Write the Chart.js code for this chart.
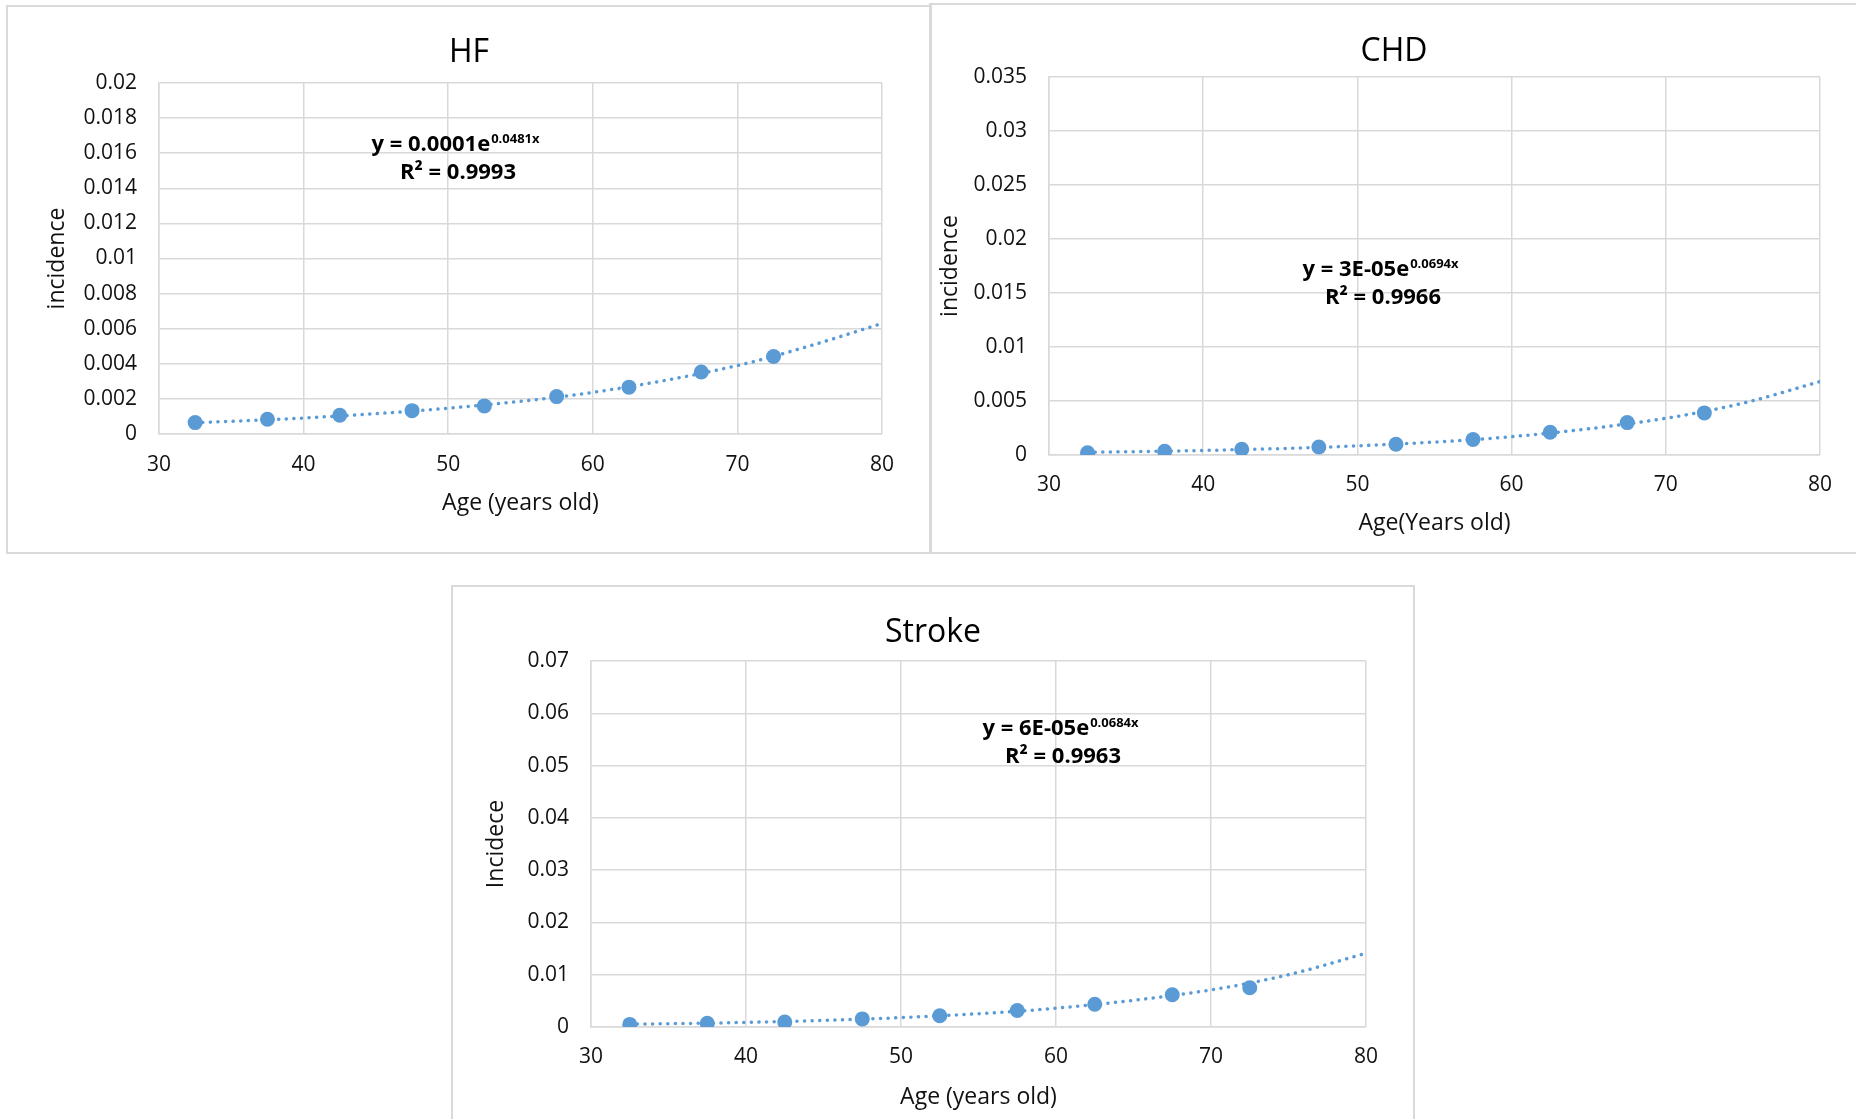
<!DOCTYPE html>
<html>
<head>
<meta charset="utf-8">
<script src="https://cdn.jsdelivr.net/npm/chart.js@4.4.1/dist/chart.umd.min.js"></script>
<style>
  body { margin: 0; background: #fff; width: 1856px; height: 1119px; overflow: hidden; position: relative; }
  .frame { position: absolute; border: 2px solid #d9d9d9; box-sizing: border-box; pointer-events: none; }
  canvas { position: absolute; }
</style>
</head>
<body>
<div class="frame" style="left:6px;top:5px;width:926px;height:549px"></div>
<div class="frame" style="left:929px;top:3px;width:1000px;height:551px"></div>
<div class="frame" style="left:451px;top:585px;width:964px;height:600px"></div>
<canvas id="hfChart" width="923" height="546" style="left:7px;top:6px"></canvas>
<canvas id="chdChart" width="926" height="548" style="left:930px;top:4px"></canvas>
<canvas id="strokeChart" width="962" height="533" style="left:452px;top:586px"></canvas>
<script>
// age groups (mid points)
const ages = [32.5, 37.5, 42.5, 47.5, 52.5, 57.5, 62.5, 67.5, 72.5];

const hfIncidence = [0.00065, 0.00084, 0.00107, 0.00133, 0.0016, 0.00213, 0.00267, 0.00353, 0.00442];
const chdIncidence = [0.0002, 0.00035, 0.00053, 0.00074, 0.001, 0.00143, 0.0021, 0.003, 0.0039];
const strokeIncidence = [0.0005, 0.0007, 0.00095, 0.00155, 0.00215, 0.00315, 0.00436, 0.00617, 0.0075];

// dotted exponential trend lines
const trendAges = [32.5, 40, 50, 60, 70, 75, 80];
const hfTrend = [0.00064, 0.00091, 0.00147, 0.00237, 0.0039, 0.00502, 0.0063];
const chdTrend = [0.00025, 0.00042, 0.00085, 0.0017, 0.0034, 0.0048, 0.0068];
const strokeTrend = [0.00053, 0.00088, 0.0018, 0.0036, 0.0071, 0.01, 0.0141];

// trend equations
const hfEq = ["y = 0.0001e", "0.0481x", "R² = 0.9993"];
const chdEq = ["y = 3E-05e", "0.0694x", "R² = 0.9966"];
const strokeEq = ["y = 6E-05e", "0.0684x", "R² = 0.9963"];

// axis ranges
const xMin = 30, xMax = 80, xStep = 10;
const hfYMax = 0.02, hfYStep = 0.002;
const chdYMax = 0.035, chdYStep = 0.005;
const strokeYMax = 0.07, strokeYStep = 0.01;

const blue = "#5B9BD5";
const gridColor = "#d9d9d9";
const textColor = "#111";

function toPoints(xs, ys) {
    return xs.map((x, i) => ({ x: x, y: ys[i] }));
}

// draws the chart title and the trend equation
const textPlugin = {
    id: "textPlugin",
    afterDraw(chart, args, opts) {
        const ctx = chart.ctx;
        ctx.save();
        ctx.fillStyle = "#000";
        ctx.textBaseline = "alphabetic";
        ctx.textAlign = "center";
        ctx.font = "32px 'Open Sans'";
        ctx.fillText(opts.title, opts.titleX, opts.titleY);

        // first line: main part + superscript
        const mainFont = "bold 22px 'Open Sans'";
        const supFont = "bold 13px 'Open Sans'";
        ctx.font = mainFont;
        const w1 = ctx.measureText(opts.eq[0]).width;
        ctx.font = supFont;
        const w2 = ctx.measureText(opts.eq[1]).width;
        const start = opts.eqX - (w1 + w2) / 2;
        ctx.textAlign = "left";
        ctx.font = mainFont;
        ctx.fillText(opts.eq[0], start, opts.eqY);
        ctx.font = supFont;
        ctx.fillText(opts.eq[1], start + w1 + 1, opts.eqY - 8);
        ctx.textAlign = "center";
        ctx.font = mainFont;
        ctx.fillText(opts.eq[2], opts.eqX + 3, opts.eqY + 28);
        ctx.restore();
    }
};

function tickLabel(v) {
    return parseFloat(v.toFixed(4)).toString();
}

function makeChart(id, c) {
    const ctx = document.getElementById(id).getContext("2d");
    return new Chart(ctx, {
        type: "scatter",
        data: {
            datasets: [{
                label: "incidence",
                data: toPoints(ages, c.values),
                showLine: false,
                pointRadius: 7.5,
                pointBackgroundColor: blue,
                pointBorderWidth: 0,
                order: 0
            }, {
                label: "trend",
                data: toPoints(trendAges, c.trend),
                showLine: true,
                pointRadius: 0,
                borderColor: blue,
                borderWidth: 3.5,
                borderDash: [0.1, 7.5],
                borderCapStyle: "round",
                cubicInterpolationMode: "monotone",
                order: 1
            }]
        },
        options: {
            responsive: false,
            animation: false,
            layout: { padding: { top: c.padTop, right: c.padRight, left: 0, bottom: 0 } },
            plugins: {
                legend: { display: false },
                tooltip: { enabled: false },
                textPlugin: { title: c.title, titleX: c.titleX, titleY: c.titleY, eq: c.eq, eqX: c.eqX, eqY: c.eqY }
            },
            scales: {
                x: {
                    type: "linear",
                    min: xMin, max: xMax,
                    ticks: { stepSize: xStep, padding: c.xTickPad, color: textColor, font: { family: "Open Sans", size: 21 } },
                    grid: { color: gridColor, lineWidth: 1.5, drawTicks: false },
                    border: { color: gridColor, width: 1.5 },
                    title: { display: true, text: c.xTitle, color: textColor, font: { family: "Open Sans", size: 23 }, padding: { top: 0, bottom: c.xTitlePad } },
                    afterFit(s) { s.height = c.xHeight; s.paddingLeft = 0; s.paddingRight = 0; }
                },
                y: {
                    min: 0, max: c.yMax,
                    ticks: { stepSize: c.yStep, padding: 22, color: textColor, font: { family: "Open Sans", size: 21 }, callback: tickLabel },
                    grid: { color: gridColor, lineWidth: 1.5, drawTicks: false },
                    border: { color: gridColor, width: 1.5 },
                    title: { display: true, text: c.yTitle, color: textColor, font: { family: "Open Sans", size: 23 }, padding: { top: c.yTitlePad, bottom: 0 } },
                    afterFit(s) { s.width = c.yWidth; s.paddingTop = 0; s.paddingBottom = 0; }
                }
            }
        },
        plugins: [textPlugin]
    });
}

makeChart("hfChart", {
    values: hfIncidence, trend: hfTrend, yMax: hfYMax, yStep: hfYStep,
    title: "HF", titleX: 462, titleY: 56,
    eq: hfEq, eqX: 448, eqY: 145,
    xTitle: "Age (years old)", yTitle: "incidence",
    padTop: 77, padRight: 48, yWidth: 152, xHeight: 118,
    xTickPad: 18, xTitlePad: 35, yTitlePad: 37
});

makeChart("chdChart", {
    values: chdIncidence, trend: chdTrend, yMax: chdYMax, yStep: chdYStep,
    title: "CHD", titleX: 464, titleY: 57,
    eq: chdEq, eqX: 450, eqY: 272,
    xTitle: "Age(Years old)", yTitle: "incidence",
    padTop: 73, padRight: 36, yWidth: 119, xHeight: 97,
    xTickPad: 17, xTitlePad: 15, yTitlePad: 7
});

makeChart("strokeChart", {
    values: strokeIncidence, trend: strokeTrend, yMax: strokeYMax, yStep: strokeYStep,
    title: "Stroke", titleX: 481, titleY: 56,
    eq: strokeEq, eqX: 608, eqY: 149,
    xTitle: "Age (years old)", yTitle: "Incidece",
    padTop: 75, padRight: 48, yWidth: 139, xHeight: 92,
    xTickPad: 17, xTitlePad: 8, yTitlePad: 31
});
</script>
</body>
</html>
